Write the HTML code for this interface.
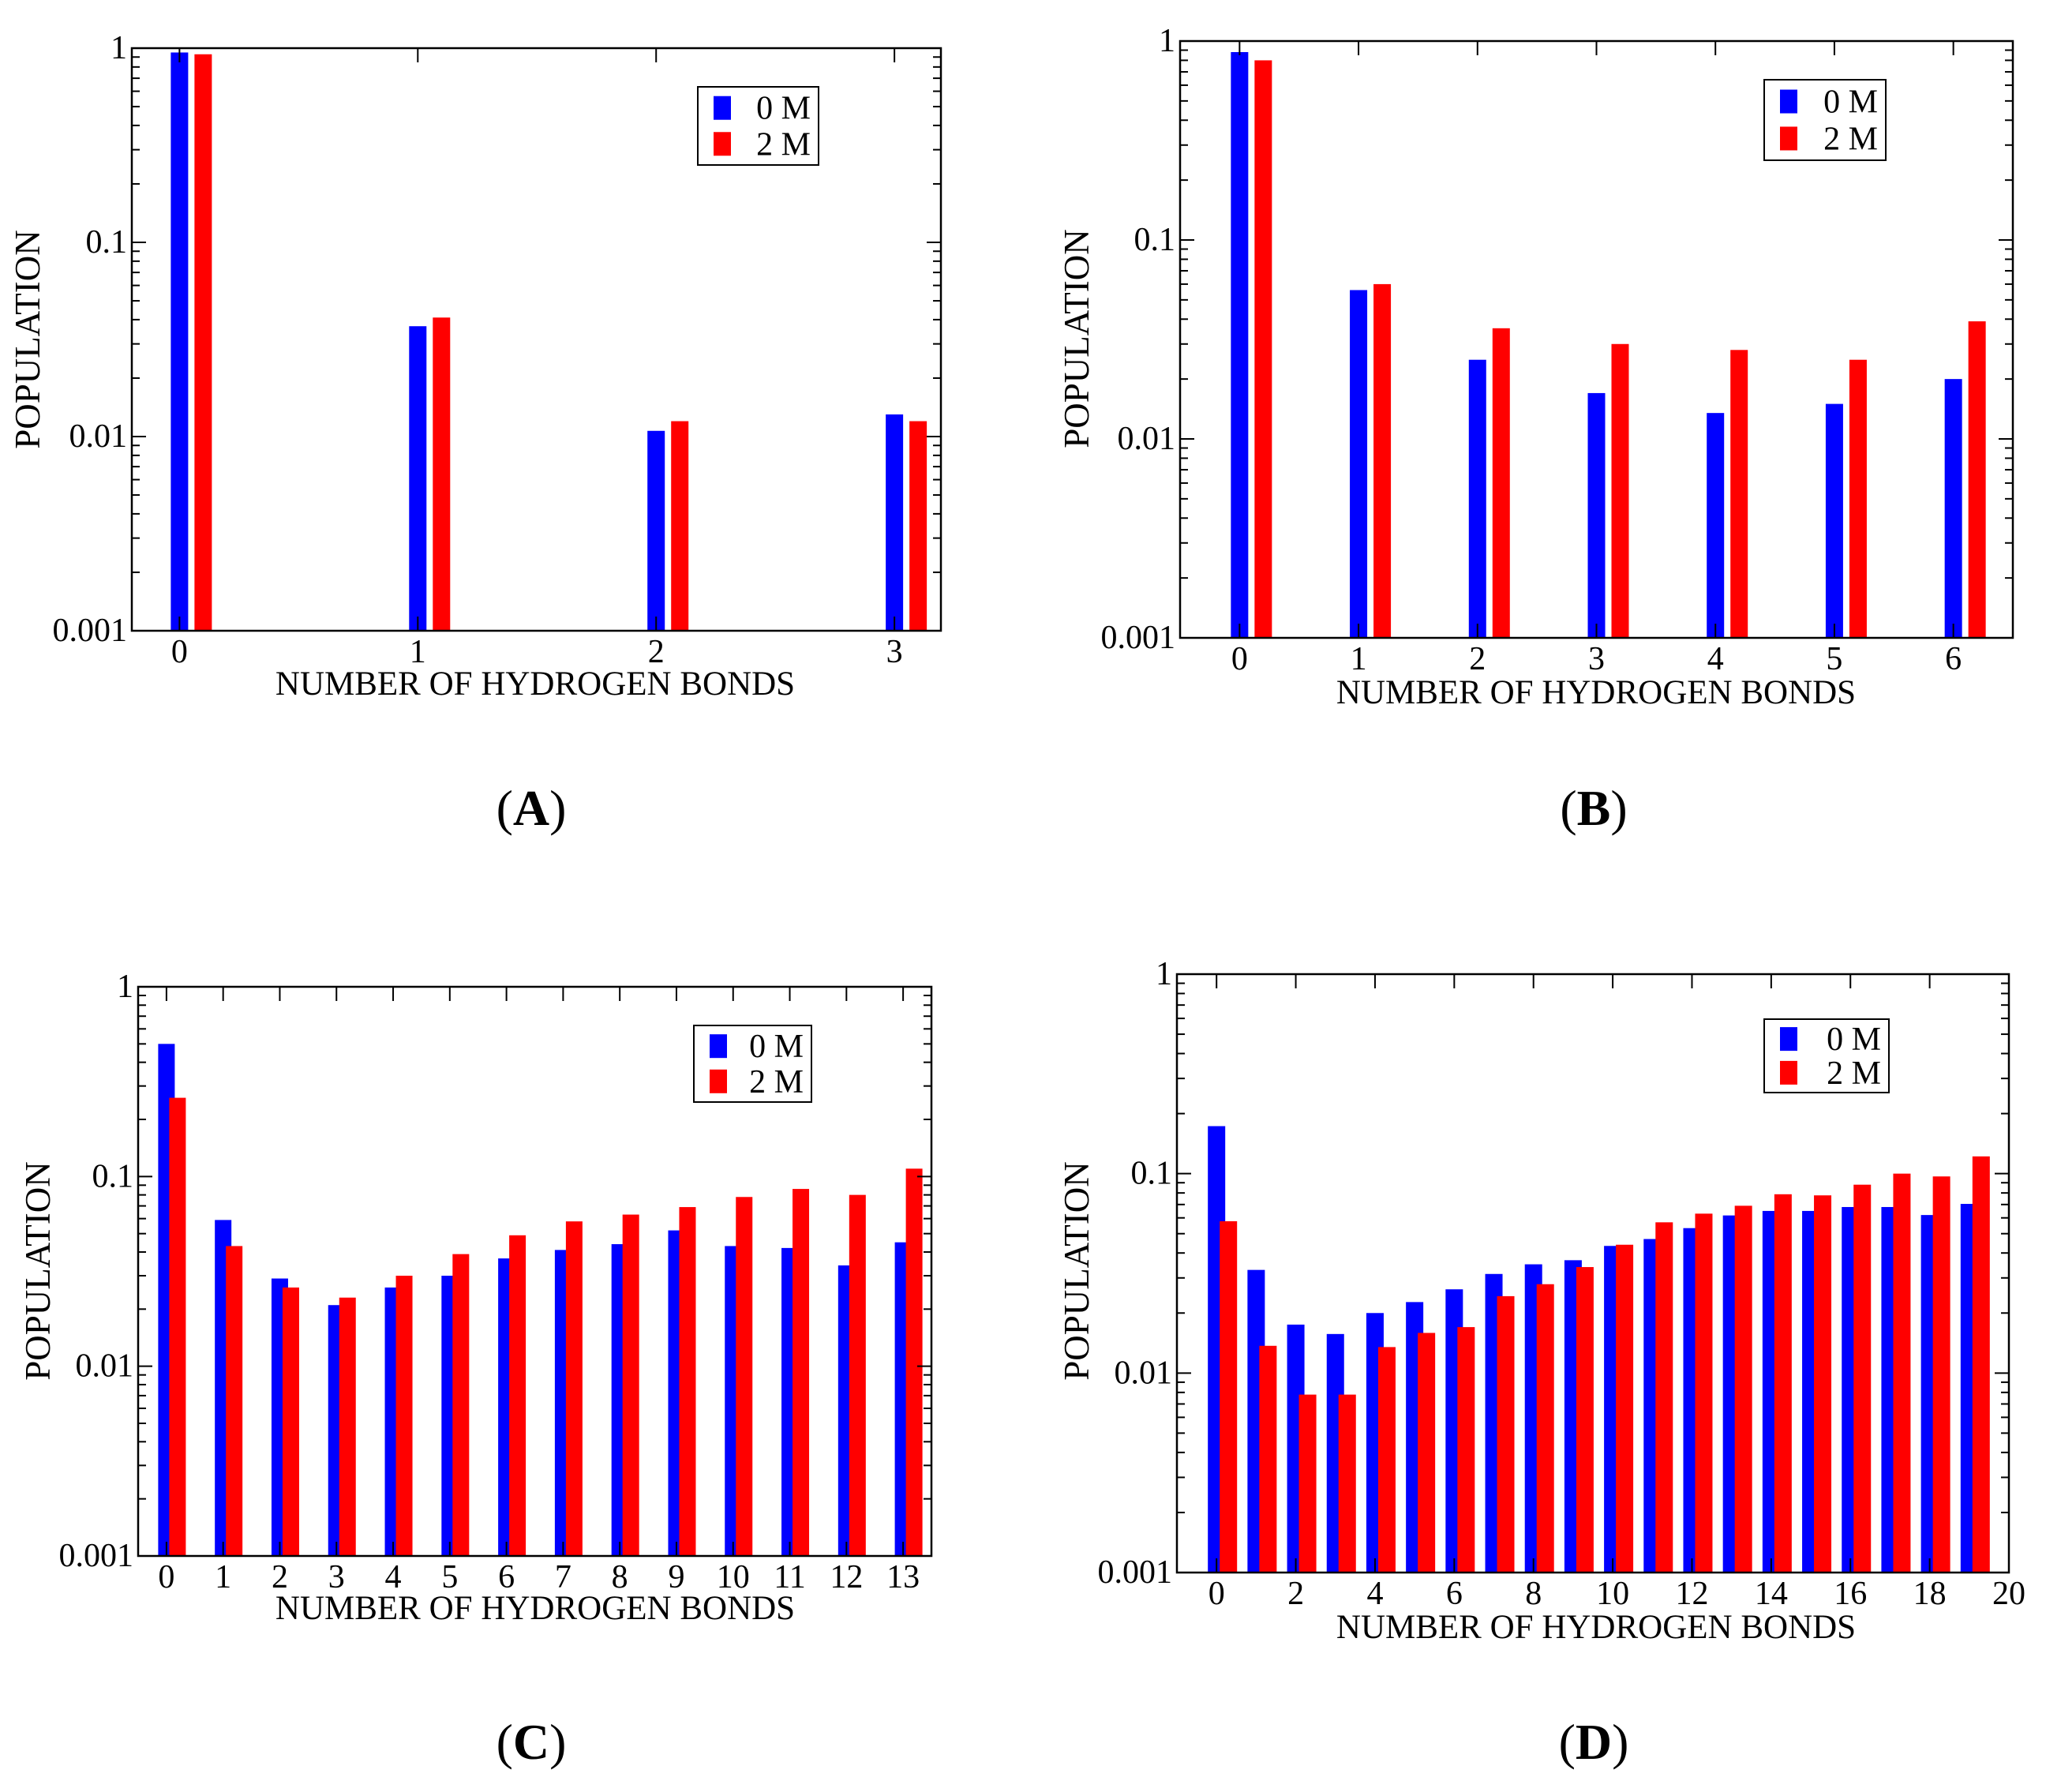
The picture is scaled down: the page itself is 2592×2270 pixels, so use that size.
<!DOCTYPE html>
<html><head><meta charset="utf-8">
<style>
html,body{margin:0;padding:0;background:#fff;}
svg text{font-family:"Liberation Serif",serif;fill:#000;}
</style></head>
<body>
<svg id="fig" width="2592" height="2265" viewBox="0 0 2592 2265" xmlns="http://www.w3.org/2000/svg">
<rect width="2592" height="2265" fill="#fff"/>
</svg>
<script>
// Panel A data
const catsA = [0,1,2,3];
const blueA = [0.95,0.037,0.0107,0.013];
const redA  = [0.93,0.041,0.012,0.012];
const xTicksA = [0,1,2,3];
// Panel B data
const catsB = [0,1,2,3,4,5,6];
const blueB = [0.88,0.056,0.025,0.017,0.0135,0.015,0.020];
const redB  = [0.80,0.060,0.036,0.030,0.028,0.025,0.039];
const xTicksB = [0,1,2,3,4,5,6];
// Panel C data
const catsC = [0,1,2,3,4,5,6,7,8,9,10,11,12,13];
const blueC = [0.50,0.059,0.029,0.021,0.026,0.030,0.037,0.041,0.044,0.052,0.043,0.042,0.034,0.045];
const redC  = [0.26,0.043,0.026,0.023,0.030,0.039,0.049,0.058,0.063,0.069,0.078,0.086,0.080,0.110];
const xTicksC = [0,1,2,3,4,5,6,7,8,9,10,11,12,13];
// Panel D data
const catsD = [0,1,2,3,4,5,6,7,8,9,10,11,12,13,14,15,16,17,18,19];
const blueD = [0.173,0.0329,0.0175,0.0157,0.020,0.0227,0.0263,0.0314,0.0351,0.0368,0.0434,0.047,0.0533,0.0617,0.065,0.065,0.068,0.068,0.062,0.0705];
const redD  = [0.0577,0.0137,0.0078,0.0078,0.0135,0.0159,0.017,0.0243,0.0279,0.034,0.044,0.057,0.063,0.069,0.0788,0.0778,0.088,0.100,0.0968,0.122];
const xTicksD = [0,2,4,6,8,10,12,14,16,18,20];
const yTickLabels = ["0.001","0.01","0.1","1"];
const yTickValues = [0.001,0.01,0.1,1];
const legendLabels = ["0 M","2 M"];

const NS="http://www.w3.org/2000/svg";
const svg=document.getElementById('fig');
function mk(tag,attrs,parent){const e=document.createElementNS(NS,tag);for(const k in attrs)e.setAttribute(k,attrs[k]);(parent||svg).appendChild(e);return e;}

function panel(p){
  const g=mk('g',{});
  
  
  const L=p.x0,R=p.x1,T=p.y0,B=p.y1;
  const xs=v=>L+(v-p.xmin)/(p.xmax-p.xmin)*(R-L);
  const ys=v=>B-(Math.log10(v)+3)/3*(B-T);
  p.cats.forEach((c,i)=>{
    const bb=mk('rect',{x:xs(c)-p.bw/2,y:ys(p.blue[i]),width:p.bw,height:B-ys(p.blue[i]),fill:'#0000ff'},g);
    
    
    const rb=mk('rect',{x:xs(c)+p.off-p.bw/2,y:ys(p.red[i]),width:p.bw,height:B-ys(p.red[i]),fill:'#ff0000'},g);
    
    
  });
  const fr=mk('rect',{x:L,y:T,width:R-L,height:B-T,fill:'none',stroke:'#000','stroke-width':2.5},g);
  
  
  for(let d=-3;d<0;d++){
    for(let m=1;m<10;m++){
      const v=m*Math.pow(10,d);const y=ys(v);const len=m===1?18:10;
      mk('line',{x1:L,x2:L+len,y1:y,y2:y,stroke:'#000','stroke-width':2},g);
      mk('line',{x1:R,x2:R-len,y1:y,y2:y,stroke:'#000','stroke-width':2},g);
    }
  }
  yTickValues.forEach((v,i)=>{
    const t=mk('text',{x:L-6,y:ys(v)+13,'font-size':42,'text-anchor':'end'},g);
    t.textContent=yTickLabels[i];
    
    
  });
  p.xticks.forEach(v=>{
    const x=xs(v);
    mk('line',{x1:x,x2:x,y1:B,y2:B-18,stroke:'#000','stroke-width':2},g);
    mk('line',{x1:x,x2:x,y1:T,y2:T+18,stroke:'#000','stroke-width':2},g);
    const t=mk('text',{x:x,y:B+40,'font-size':42,'text-anchor':'middle'},g);
    t.textContent=String(v);
    
    
  });
  const xt=mk('text',{x:p.xtx,y:p.xty,'font-size':43,'text-anchor':'middle'},g);
  xt.textContent='NUMBER OF HYDROGEN BONDS';
  
  
  const yt=mk('text',{x:0,y:0,'font-size':45,'text-anchor':'middle',transform:`translate(${p.ytx},${p.yty}) rotate(-90)`},g);
  yt.textContent='POPULATION';
  
  
  const lg=mk('g',{},g);
  
  
  const [lx,ly,lw,lh]=p.leg;
  mk('rect',{x:lx,y:ly,width:lw,height:lh,fill:'#fff',stroke:'#000','stroke-width':2},lg);
  ['#0000ff','#ff0000'].forEach((c,i)=>{
    const yy=ly+lh*(0.27+0.46*i);
    mk('rect',{x:lx+20,y:yy-15,width:22,height:30,fill:c},lg);
    const t=mk('text',{x:lx+lw-10,y:yy+14,'font-size':42,'text-anchor':'end'},lg);
    t.textContent=legendLabels[i];
    
    
  });
  const pl=mk('text',{x:p.plx,y:p.ply,'font-size':64,'text-anchor':'middle'},g);
  pl.innerHTML='(<tspan font-weight="bold">'+p.id+'</tspan>)';
  
  
}

panel({id:'A',cats:catsA,blue:blueA,red:redA,xticks:xTicksA,x0:167,x1:1192,y0:61,y1:799,xmin:-0.2,xmax:3.195,bw:22,off:30,
  xtx:678,xty:880,ytx:50,yty:430,leg:[884,110,153,99],plx:673,ply:1045});
panel({id:'B',cats:catsB,blue:blueB,red:redB,xticks:xTicksB,x0:1495,x1:2550,y0:52,y1:808,xmin:-0.5,xmax:6.5,bw:22,off:30,
  xtx:2022,xty:891,ytx:1379,yty:429,leg:[2235,101,154,102],plx:2019,ply:1045});
panel({id:'C',cats:catsC,blue:blueC,red:redC,xticks:xTicksC,x0:175,x1:1180,y0:1250,y1:1971,xmin:-0.5,xmax:13.5,bw:21,off:14,
  xtx:678,xty:2051,ytx:63,yty:1610,leg:[879,1299,149,97],plx:673,ply:2228});
panel({id:'D',cats:catsD,blue:blueD,red:redD,xticks:xTicksD,x0:1491,x1:2545,y0:1234,y1:1992,xmin:-1,xmax:20,bw:22,off:15,
  xtx:2022,xty:2075,ytx:1379,yty:1610,leg:[2235,1291,158,93],plx:2019,ply:2228});
</script>
</body></html>
